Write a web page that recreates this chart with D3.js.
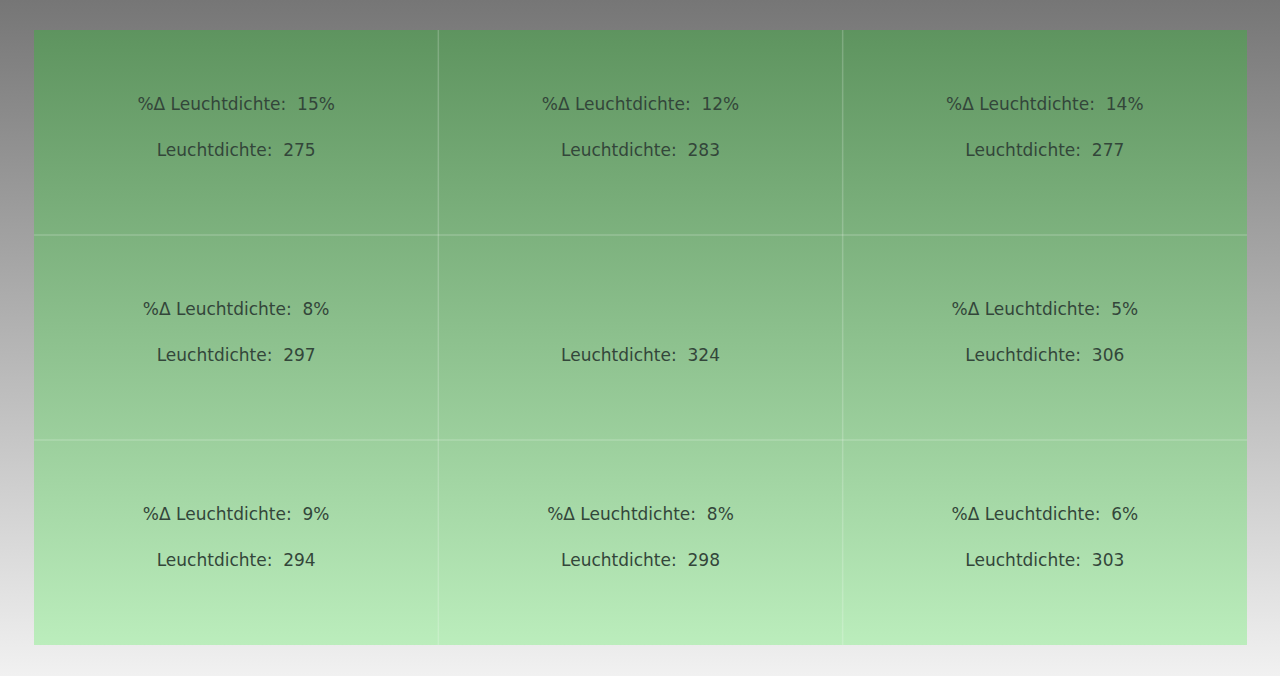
<!DOCTYPE html>
<html>
<head>
<meta charset="utf-8">
<script src="https://cdn.jsdelivr.net/npm/d3@7"></script>
<style>
  html, body { margin: 0; padding: 0; }
  text { white-space: pre; }
</style>
</head>
<body>
<script>
// chart values, row by row (3x3 grid)
var rows = [0, 1, 2];
var cols = [0, 1, 2];
var deltaPct = [15, 12, 14, 8, null, 5, 9, 8, 6];
var luminance = [275, 283, 277, 297, 324, 306, 294, 298, 303];
var deltaLabel = '%\u0394 Leuchtdichte:  ';
var lumLabel = 'Leuchtdichte:  ';

var width = 1280,
    height = 676;

var panel = { x0: 34, x1: 1247, y0: 30, y1: 645 };

var svg = d3.select('body')
    .append('svg')
    .attr('width', width)
    .attr('height', height);

var defs = svg.append('defs');

// grey page background
var bg = defs.append('linearGradient')
    .attr('id', 'bg')
    .attr('x1', 0).attr('y1', 0).attr('x2', 0).attr('y2', 1);
bg.append('stop').attr('offset', '0%').attr('stop-color', '#767676');
bg.append('stop').attr('offset', '100%').attr('stop-color', '#f1f1f1');

// green panel
var green = defs.append('linearGradient')
    .attr('id', 'green')
    .attr('x1', 0).attr('y1', 0).attr('x2', 0).attr('y2', 1);
green.append('stop').attr('offset', '0%').attr('stop-color', '#5e945f');
green.append('stop').attr('offset', '100%').attr('stop-color', '#bbedbc');

svg.append('rect')
    .attr('width', width)
    .attr('height', height)
    .attr('fill', 'url(#bg)');

var x = d3.scaleBand()
    .domain(cols)
    .range([panel.x0, panel.x1]);

var y = d3.scaleBand()
    .domain(rows)
    .range([panel.y0, panel.y1]);

svg.append('rect')
    .attr('x', panel.x0)
    .attr('y', panel.y0)
    .attr('width', panel.x1 - panel.x0)
    .attr('height', panel.y1 - panel.y0)
    .attr('fill', 'url(#green)');

var cells = d3.range(9).map(function(i) {
    return { r: Math.floor(i / 3), c: i % 3, pct: deltaPct[i], lum: luminance[i] };
});

// cell dividers
var grid = svg.append('g')
    .attr('stroke', '#ffffff')
    .attr('stroke-opacity', 0.2)
    .attr('stroke-width', 1.5);

grid.selectAll('.v')
    .data(cols.slice(1))
    .enter().append('line')
    .attr('x1', function(d) { return x(d); })
    .attr('x2', function(d) { return x(d); })
    .attr('y1', panel.y0)
    .attr('y2', panel.y1);

grid.selectAll('.h')
    .data(rows.slice(1))
    .enter().append('line')
    .attr('y1', function(d) { return y(d); })
    .attr('y2', function(d) { return y(d); })
    .attr('x1', panel.x0)
    .attr('x2', panel.x1);

var cell = svg.selectAll('.cell')
    .data(cells)
    .enter().append('g')
    .attr('class', 'cell')
    .attr('transform', function(d) {
        return 'translate(' + (x(d.c) + x.bandwidth() / 2) + ',' + (y(d.r) + y.bandwidth() / 2) + ')';
    })
    .style('font-family', '"DejaVu Sans", sans-serif')
    .style('font-size', '17px')
    .attr('fill', '#33463a')
    .attr('text-anchor', 'middle');

cell.filter(function(d) { return d.pct != null; })
    .append('text')
    .attr('y', -28)
    .attr('dy', '0.35em')
    .text(function(d) { return deltaLabel + d.pct + '%'; });

cell.append('text')
    .attr('y', 18)
    .attr('dy', '0.35em')
    .text(function(d) { return lumLabel + d.lum; });
</script>
</body>
</html>
